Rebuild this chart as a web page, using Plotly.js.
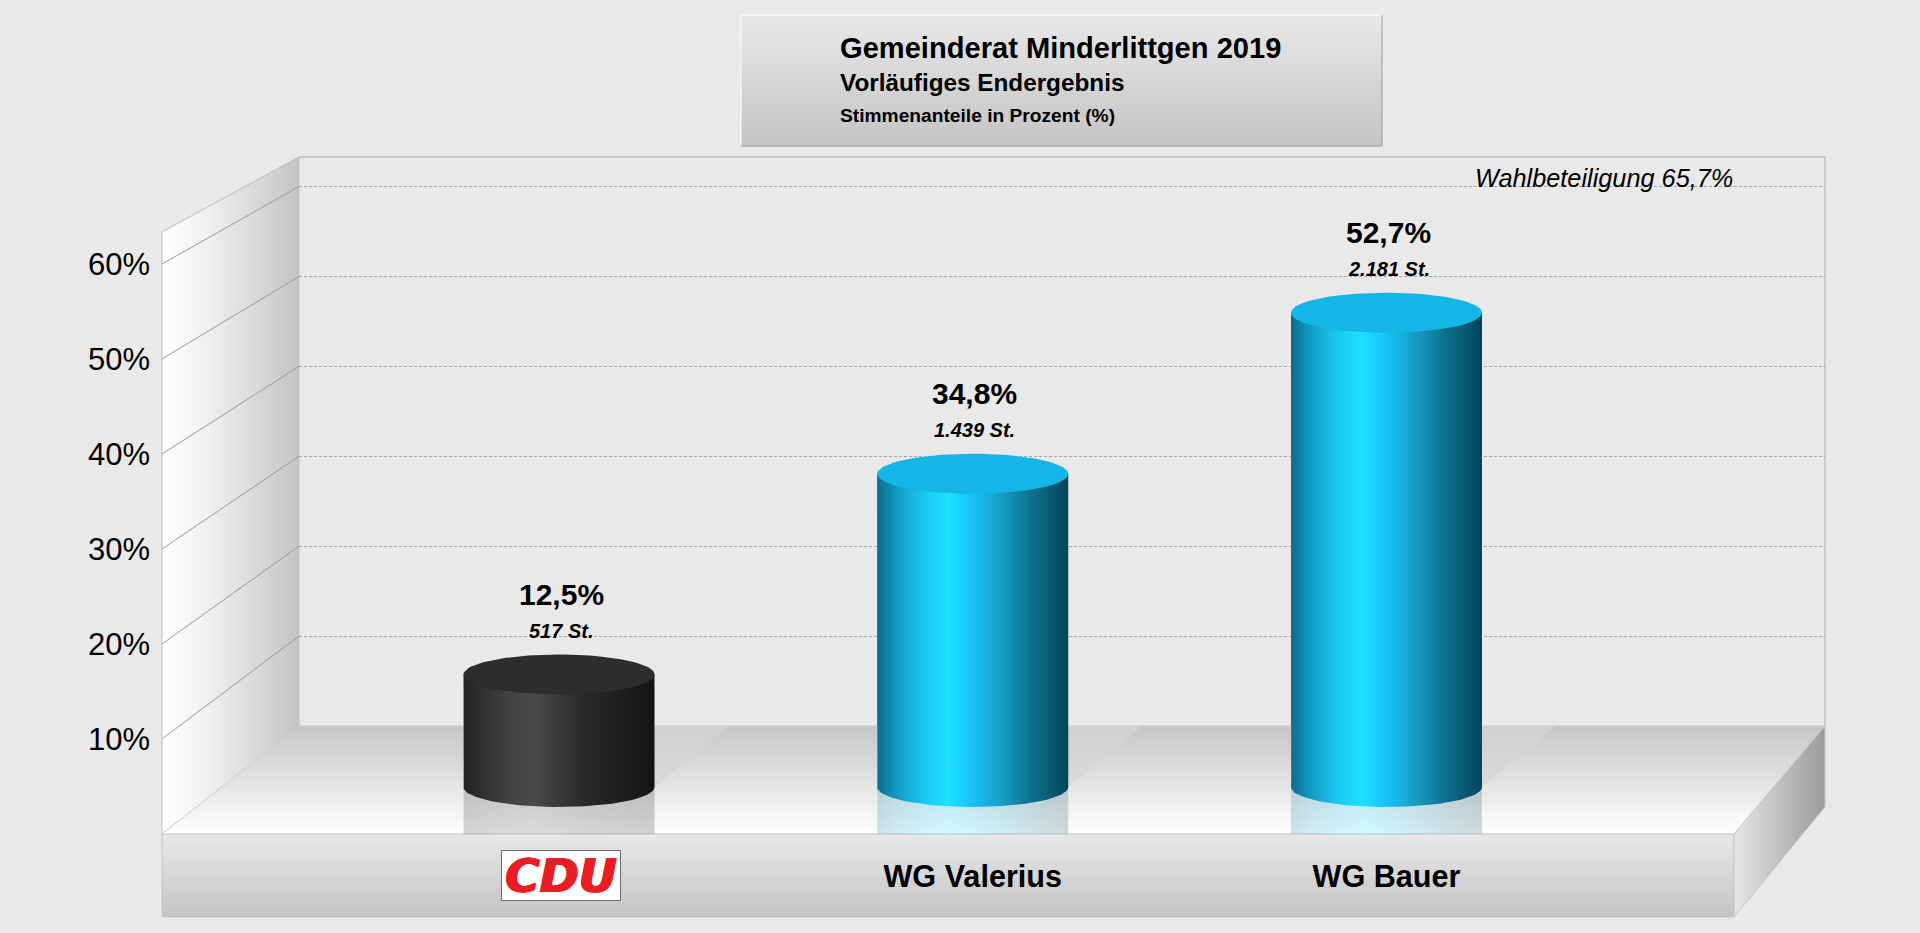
<!DOCTYPE html>
<html><head><meta charset="utf-8">
<script src="https://cdn.plot.ly/plotly-3.0.1.min.js"></script>
<style>html,body{margin:0;padding:0;background:#e9e9e9;overflow:hidden}</style>
</head><body><div id="chart" style="width:1920px;height:933px"></div>
<script>
// ---- data ----
const categories = ["CDU", "WG Valerius", "WG Bauer"];
const percent = [12.5, 34.8, 52.7];
const votes = [517, 1439, 2181];
const axisTicks = [10, 20, 30, 40, 50, 60];
const axisTickText = ["10%", "20%", "30%", "40%", "50%", "60%"];
const titleLines = ["Gemeinderat Minderlittgen 2019", "Vorläufiges Endergebnis", "Stimmenanteile in Prozent (%)"];
const turnoutNote = "Wahlbeteiligung 65,7%";
const blueSide = ["#0a6d8c", "#129ac2", "#18c6f0", "#1ee2ff", "#17c6ff", "#16a6cc", "#0e7391", "#04445a"];
const blackSide = ["#232323", "#303030", "#424242", "#4a4a4a", "#3c3c3c", "#2a2a2a", "#202020", "#141414"];
const sideStops = [0, 0.1, 0.24, 0.37, 0.48, 0.62, 0.8, 1];
const sideColors = [blackSide, blueSide, blueSide];
const topColors = ["#2d2d2d", "#13b6e6", "#13b6e6"];

const FONT = "Liberation Sans, Arial, sans-serif";
const W = 1920, H = 933;
// perspective frame on screen
const BX = 299, BT = 157, BR = 1825, BB = 726, FX = 162, FB = 834, FR = 1734, FT = 232;
const ZERO_PX = 787, PX_PER_UNIT = 9, BACK_PX = 8.99, FRONT_PX = 9.5;
const CENTER0 = 559, STEP = 413.75, HALF = 0.2308, RY = 20 / PX_PER_UNIT;
const xs = categories.map((_, i) => i);

function hex(c, a) {
  const n = parseInt(c.slice(1), 16);
  return `rgba(${n >> 16},${(n >> 8) & 255},${n & 255},${a})`;
}
function grad(type, start, stop, stops) {
  return {type, start, stop, colorscale: stops};
}
function poly(px, py, g, lineColor, ax) {
  const t = {type: "scatter", x: px.concat(px[0]), y: py.concat(py[0]), mode: "lines", fill: "toself",
    line: {width: lineColor ? 1 : 0, color: lineColor || "rgba(0,0,0,0)"}, hoverinfo: "skip", showlegend: false,
    xaxis: ax ? ax[0] : "x", yaxis: ax ? ax[1] : "y"};
  if (g) t.fillgradient = g;
  return t;
}
function line(px, py, color, width) {
  return {type: "scatter", x: px, y: py, mode: "lines", line: {color, width: width || 1}, hoverinfo: "skip",
    showlegend: false, xaxis: "x", yaxis: "y", connectgaps: false};
}

const traces = [];
// --- chrome, in screen pixels ---
traces.push(poly([741, 1382, 1382, 741], [15, 15, 146, 146], grad("vertical", 15, 146, [[0, "#e8e8e8"], [1, "#c4c4c4"]])));
traces.push(line([741, 741, 1382], [146, 15, 15], "#ffffff", 1));
traces.push(line([741, 1382, 1382], [146, 146, 15], "#9c9c9c", 1));
traces.push(poly([FX, BX, BX, FX], [FT, BT, BB, FB], grad("horizontal", FX, BX, [[0, "#ffffff"], [0.35, "#efefef"], [1, "#c4c4c4"]])));
traces.push(poly([FX, BX, BR, FR], [FB, BB, BB, FB], grad("vertical", BB, FB, [[0, "#c6c6c6"], [0.5, "#e2e2e2"], [1, "#ffffff"]])));
traces.push(poly([FX, FR, FR, FX], [FB, FB, 917, 917], grad("vertical", FB, 917, [[0, "#e8e8e8"], [1, "#c4c4c4"]]), "#c4c4c4"));
traces.push(poly([FR, BR, BR, FR], [FB, BB, 807, 917], grad("horizontal", FR, BR, [[0, "#e6e6e6"], [1, "#9a9a9a"]]), "#c4c4c4"));
traces.push(line([FX, FX, BX], [FB, FT, BT], "#bcbcbc", 1));
traces.push(line([BX, BR], [BT, BT], "#a4a4a4", 1));
traces.push(line([BR, BR], [BT, BB], "#b0b0b0", 1));
traces.push(line([BX, BX], [BT, BB], "#c0c0c0", 1));
traces.push(line([FX, BX, BR], [FB, BB, BB], "#cccccc", 1));
const wx = [], wy = [];
axisTicks.forEach(t => { wx.push(FX, BX, null); wy.push(FB - t * FRONT_PX, BB - t * BACK_PX, null); });
traces.push(line(wx, wy, "#9a9a9a", 1));

// --- back wall grid axis ---
traces.push({type: "scatter", x: [0], y: [0], mode: "none", xaxis: "x2", yaxis: "y2", hoverinfo: "skip", showlegend: false});
// --- front scale labels ---
traces.push({type: "scatter", x: [0], y: [0], mode: "none", xaxis: "x2", yaxis: "y4", hoverinfo: "skip", showlegend: false});

// --- data marks ---
const DA = ["x2", "y3"];
const floorBack = (ZERO_PX - BB) / PX_PER_UNIT, floorFront = (ZERO_PX - FB) / PX_PER_UNIT;
const shadowDx = 74 / STEP;
xs.forEach(i => {
  traces.push(poly([i - HALF, i + HALF + shadowDx, i + HALF, i - HALF], [floorBack, floorBack, 0, 0],
    grad("vertical", floorBack, 0, [[0, "#d0d0d0"], [1, "#dadada"]]), null, DA));
  const cs = sideStops.map((s, k) => [s, hex(sideColors[i][k], 0.2)]);
  traces.push(poly([i - HALF, i + HALF, i + HALF, i - HALF], [0, 0, floorFront, floorFront],
    grad("horizontal", i - HALF, i + HALF, cs), null, DA));
});
// the values themselves
traces.push({type: "bar", x: xs, y: percent, width: 2 * HALF, xaxis: "x2", yaxis: "y3",
  marker: {color: topColors, line: {width: 0}}, hoverinfo: "skip", showlegend: false});
const STEPS = 48;
xs.forEach(i => {
  const v = percent[i], bx = [i - HALF], by = [v];
  for (let k = 0; k <= STEPS; k++) {
    const t = Math.PI * (1 - k / STEPS);
    bx.push(i + HALF * Math.cos(t)); by.push(-RY * Math.sin(t));
  }
  bx.push(i + HALF); by.push(v);
  const cs = sideStops.map((s, k) => [s, sideColors[i][k]]);
  traces.push(poly(bx, by, grad("horizontal", i - HALF, i + HALF, cs), null, DA));
  const tx = [], ty = [];
  for (let k = 0; k < 2 * STEPS; k++) {
    const t = Math.PI * k / STEPS;
    tx.push(i + HALF * Math.cos(t)); ty.push(v + RY * Math.sin(t));
  }
  const top = poly(tx, ty, null, null, DA);
  top.fillcolor = topColors[i];
  traces.push(top);
});

// --- text ---
const ann = [];
const text = (t, x, y, size, extra) => Object.assign({text: t, x, y, xref: "x", yref: "y", showarrow: false,
  xanchor: "left", yanchor: "middle", font: {family: FONT, size, color: "#000"}}, extra || {});
ann.push(text("<b>" + titleLines[1] + "</b>", 838, 82, 24.3));
ann.push(text("<b>" + titleLines[2] + "</b>", 838, 115, 19.2));
ann.push(text("<i>" + turnoutNote + "</i>", 1473, 178, 25.3));
const fmtPct = v => v.toFixed(1).replace(".", ",") + "%";
const fmtVotes = v => String(v).replace(/\B(?=(\d{3})+$)/g, ".") + " St.";
xs.forEach(i => {
  ann.push({text: "<b>" + fmtPct(percent[i]) + "</b>", x: i, y: percent[i], xref: "x2", yref: "y3", yshift: 80, xshift: 2,
    showarrow: false, xanchor: "center", yanchor: "middle", font: {family: FONT, size: 30, color: "#000"}});
  ann.push({text: "<b><i>" + fmtVotes(votes[i]) + "</i></b>", x: i, y: percent[i], xref: "x2", yref: "y3", yshift: 44, xshift: 2,
    showarrow: false, xanchor: "center", yanchor: "middle", font: {family: FONT, size: 20, color: "#000"}});
});
// CDU logo: red text on a white box
ann.push({text: "<b><i>" + categories[0] + "</i></b>", x: 560.5, y: 875, xref: "x", yref: "y", showarrow: false,
  xanchor: "center", yanchor: "middle", width: 118, height: 49, bgcolor: "#ffffff", bordercolor: "#6e6e6e", borderwidth: 1, borderpad: 0,
  font: {family: "DejaVu Sans", size: 47, color: "#ed1c24", shadow: "1px 0 0 #ed1c24, -1px 0 0 #ed1c24"}});

const layout = {
  width: W, height: H, autosize: false, showlegend: false,
  paper_bgcolor: "#e9e9e9", plot_bgcolor: "rgba(0,0,0,0)",
  margin: {l: 0, r: 0, t: 0, b: 0, pad: 0},
  title: {text: "<b>" + titleLines[0] + "</b>", x: 840 / W, xref: "paper", xanchor: "left", y: 1 - 48 / H, yref: "paper", yanchor: "middle",
    font: {family: FONT, size: 29.1, color: "#000"}},
  xaxis: {domain: [0, 1], range: [0, W], visible: false, fixedrange: true},
  yaxis: {domain: [0, 1], range: [H, 0], visible: false, fixedrange: true, anchor: "x"},
  xaxis2: {domain: [BX / W, BR / W], range: [(BX - CENTER0) / STEP, (BR - CENTER0) / STEP], anchor: "free", position: (H - 855.5) / H,
    tickmode: "array", tickvals: xs, ticktext: categories.map(c => c === "CDU" ? " " : c), showgrid: false, zeroline: false, showline: false, ticks: "",
    tickfont: {family: FONT, size: 30.6, color: "#000", weight: "bold"}, fixedrange: true},
  yaxis2: {domain: [0, 1], range: [(BB - H) / BACK_PX, BB / BACK_PX], anchor: "x2", tickmode: "array", tickvals: axisTicks,
    showticklabels: false, ticks: "", showline: false, zeroline: false, showgrid: true, gridcolor: "#a6a6a6", gridwidth: 1, griddash: "3px,2px", fixedrange: true},
  yaxis3: {overlaying: "y2", range: [(ZERO_PX - H) / PX_PER_UNIT, ZERO_PX / PX_PER_UNIT], anchor: "x2", visible: false, fixedrange: true},
  yaxis4: {overlaying: "y2", range: [(FB - H) / FRONT_PX, FB / FRONT_PX], anchor: "free", position: FX / W, side: "left",
    tickmode: "array", tickvals: axisTicks, ticktext: axisTickText, ticks: "", showgrid: false, zeroline: false, showline: false, ticklabelstandoff: 12,
    tickfont: {family: FONT, size: 31, color: "#000"}, fixedrange: true},
  annotations: ann, bargap: 0
};
Plotly.newPlot("chart", traces, layout, {displayModeBar: false, staticPlot: true});
</script></body></html>
